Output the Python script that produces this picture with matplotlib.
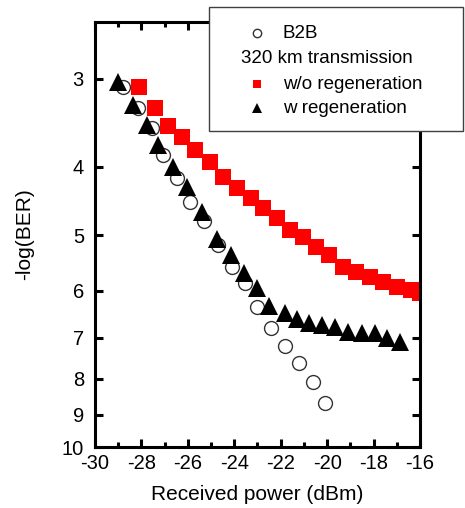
import matplotlib
matplotlib.use('Agg')
import matplotlib.pyplot as plt
from matplotlib.lines import Line2D
from matplotlib.patches import Rectangle
from matplotlib.ticker import FixedLocator, NullLocator, FixedFormatter, MultipleLocator

plt.rcParams['font.family'] = ['Liberation Sans', 'DejaVu Sans']
plt.rcParams['axes.unicode_minus'] = False

# back-to-back reference
power_b2b = [-28.8, -28.15, -27.55, -27.05, -26.45, -25.9, -25.3, -24.7, -24.1, -23.55,
             -23.0, -22.4, -21.8, -21.2, -20.6, -20.1]
ber_b2b = [3.08, 3.30, 3.52, 3.85, 4.15, 4.49, 4.77, 5.16, 5.55, 5.85,
           6.32, 6.78, 7.18, 7.60, 8.08, 8.66]

# 320 km, no regeneration
power_wo = [-28.1, -27.4, -26.85, -26.25, -25.7, -25.05, -24.5, -23.9, -23.3, -22.75, -22.15,
            -21.6, -21.05, -20.5, -19.9, -19.3, -18.75, -18.15, -17.6, -17.0, -16.4, -16.0]
ber_wo = [3.08, 3.30, 3.50, 3.63, 3.79, 3.94, 4.13, 4.29, 4.43, 4.57, 4.73,
          4.92, 5.03, 5.20, 5.33, 5.55, 5.64, 5.73, 5.83, 5.92, 5.98, 6.04]

# 320 km, with regeneration
power_w = [-29.0, -28.35, -27.75, -27.3, -26.65, -26.05, -25.4, -24.75, -24.15, -23.6, -23.0,
           -22.5, -21.8, -21.3, -20.8, -20.2, -19.65, -19.1, -18.5, -17.95, -17.4, -16.85]
ber_w = [3.03, 3.27, 3.49, 3.72, 4.00, 4.27, 4.63, 5.06, 5.33, 5.66, 5.94,
         6.30, 6.45, 6.58, 6.67, 6.71, 6.75, 6.86, 6.89, 6.89, 7.00, 7.09]

yticks = [3, 4, 5, 6, 7, 8, 9, 10]

fig = plt.figure(figsize=(4.65, 5.08), dpi=100)
ax = fig.add_axes([0.2043, 0.120, 0.6989, 0.8367])

ax.plot(power_wo, ber_wo, 's', color='#ff0000', markersize=11, markeredgewidth=0, zorder=2)
ax.plot(power_b2b, ber_b2b, 'o', markerfacecolor='white', markeredgecolor='#333333',
        markersize=10, markeredgewidth=1.0, zorder=3)
ax.plot(power_w, ber_w, '^', color='black', markersize=12.5, markeredgewidth=0, zorder=4)

ax.set_yscale('log')
ax.set_ylim(10, 2.49)
ax.set_xlim(-30, -16)
ax.yaxis.set_major_locator(FixedLocator(yticks))
ax.yaxis.set_major_formatter(FixedFormatter([str(t) for t in yticks]))
ax.yaxis.set_minor_locator(NullLocator())
ax.xaxis.set_major_locator(MultipleLocator(2))
ax.xaxis.set_minor_locator(MultipleLocator(1))

for s in ax.spines.values():
    s.set_linewidth(2.2)
ax.tick_params(which='both', direction='in', top=True, right=True, width=2.2, labelsize=14.5)
ax.tick_params(axis='y', pad=8)
ax.tick_params(axis='x', pad=5)
ax.tick_params(which='major', length=6)
ax.tick_params(which='minor', length=3.5)

ax.set_xlabel('Received power (dBm)', fontsize=15, labelpad=9)
ax.set_ylabel('-log(BER)', fontsize=15, labelpad=20)

# legend box drawn over the top-right corner
fig.add_artist(Rectangle((0.4495, 0.7421), 0.5462, 0.2441, transform=fig.transFigure,
                         facecolor='white', edgecolor='#404040', linewidth=1.0, zorder=10))
mx, tx = 0.5527, 0.6086
rows = [0.935, 0.8839, 0.8346, 0.7874]
fig.add_artist(Line2D([mx], [rows[0]], marker='o', markersize=6, markerfacecolor='white',
                      markeredgecolor='#333333', markeredgewidth=1.0, transform=fig.transFigure, zorder=11))
fig.add_artist(Line2D([mx], [rows[2]], marker='s', markersize=6, color='#ff0000',
                      markeredgewidth=0, transform=fig.transFigure, zorder=11))
fig.add_artist(Line2D([mx], [rows[3]], marker='^', markersize=7, color='black',
                      markeredgewidth=0, transform=fig.transFigure, zorder=11))
fig.text(tx, rows[0], 'B2B', fontsize=13.5, va='center', ha='left', zorder=11)
fig.text(0.518, rows[1], '320 km transmission', fontsize=13.5, va='center', ha='left', zorder=11)
fig.text(tx, rows[2], 'w/o regeneration', fontsize=13.5, va='center', ha='left', zorder=11)
fig.text(tx, rows[3], 'w regeneration', fontsize=13.5, va='center', ha='left', zorder=11)

plt.savefig('out.png', dpi=100)
